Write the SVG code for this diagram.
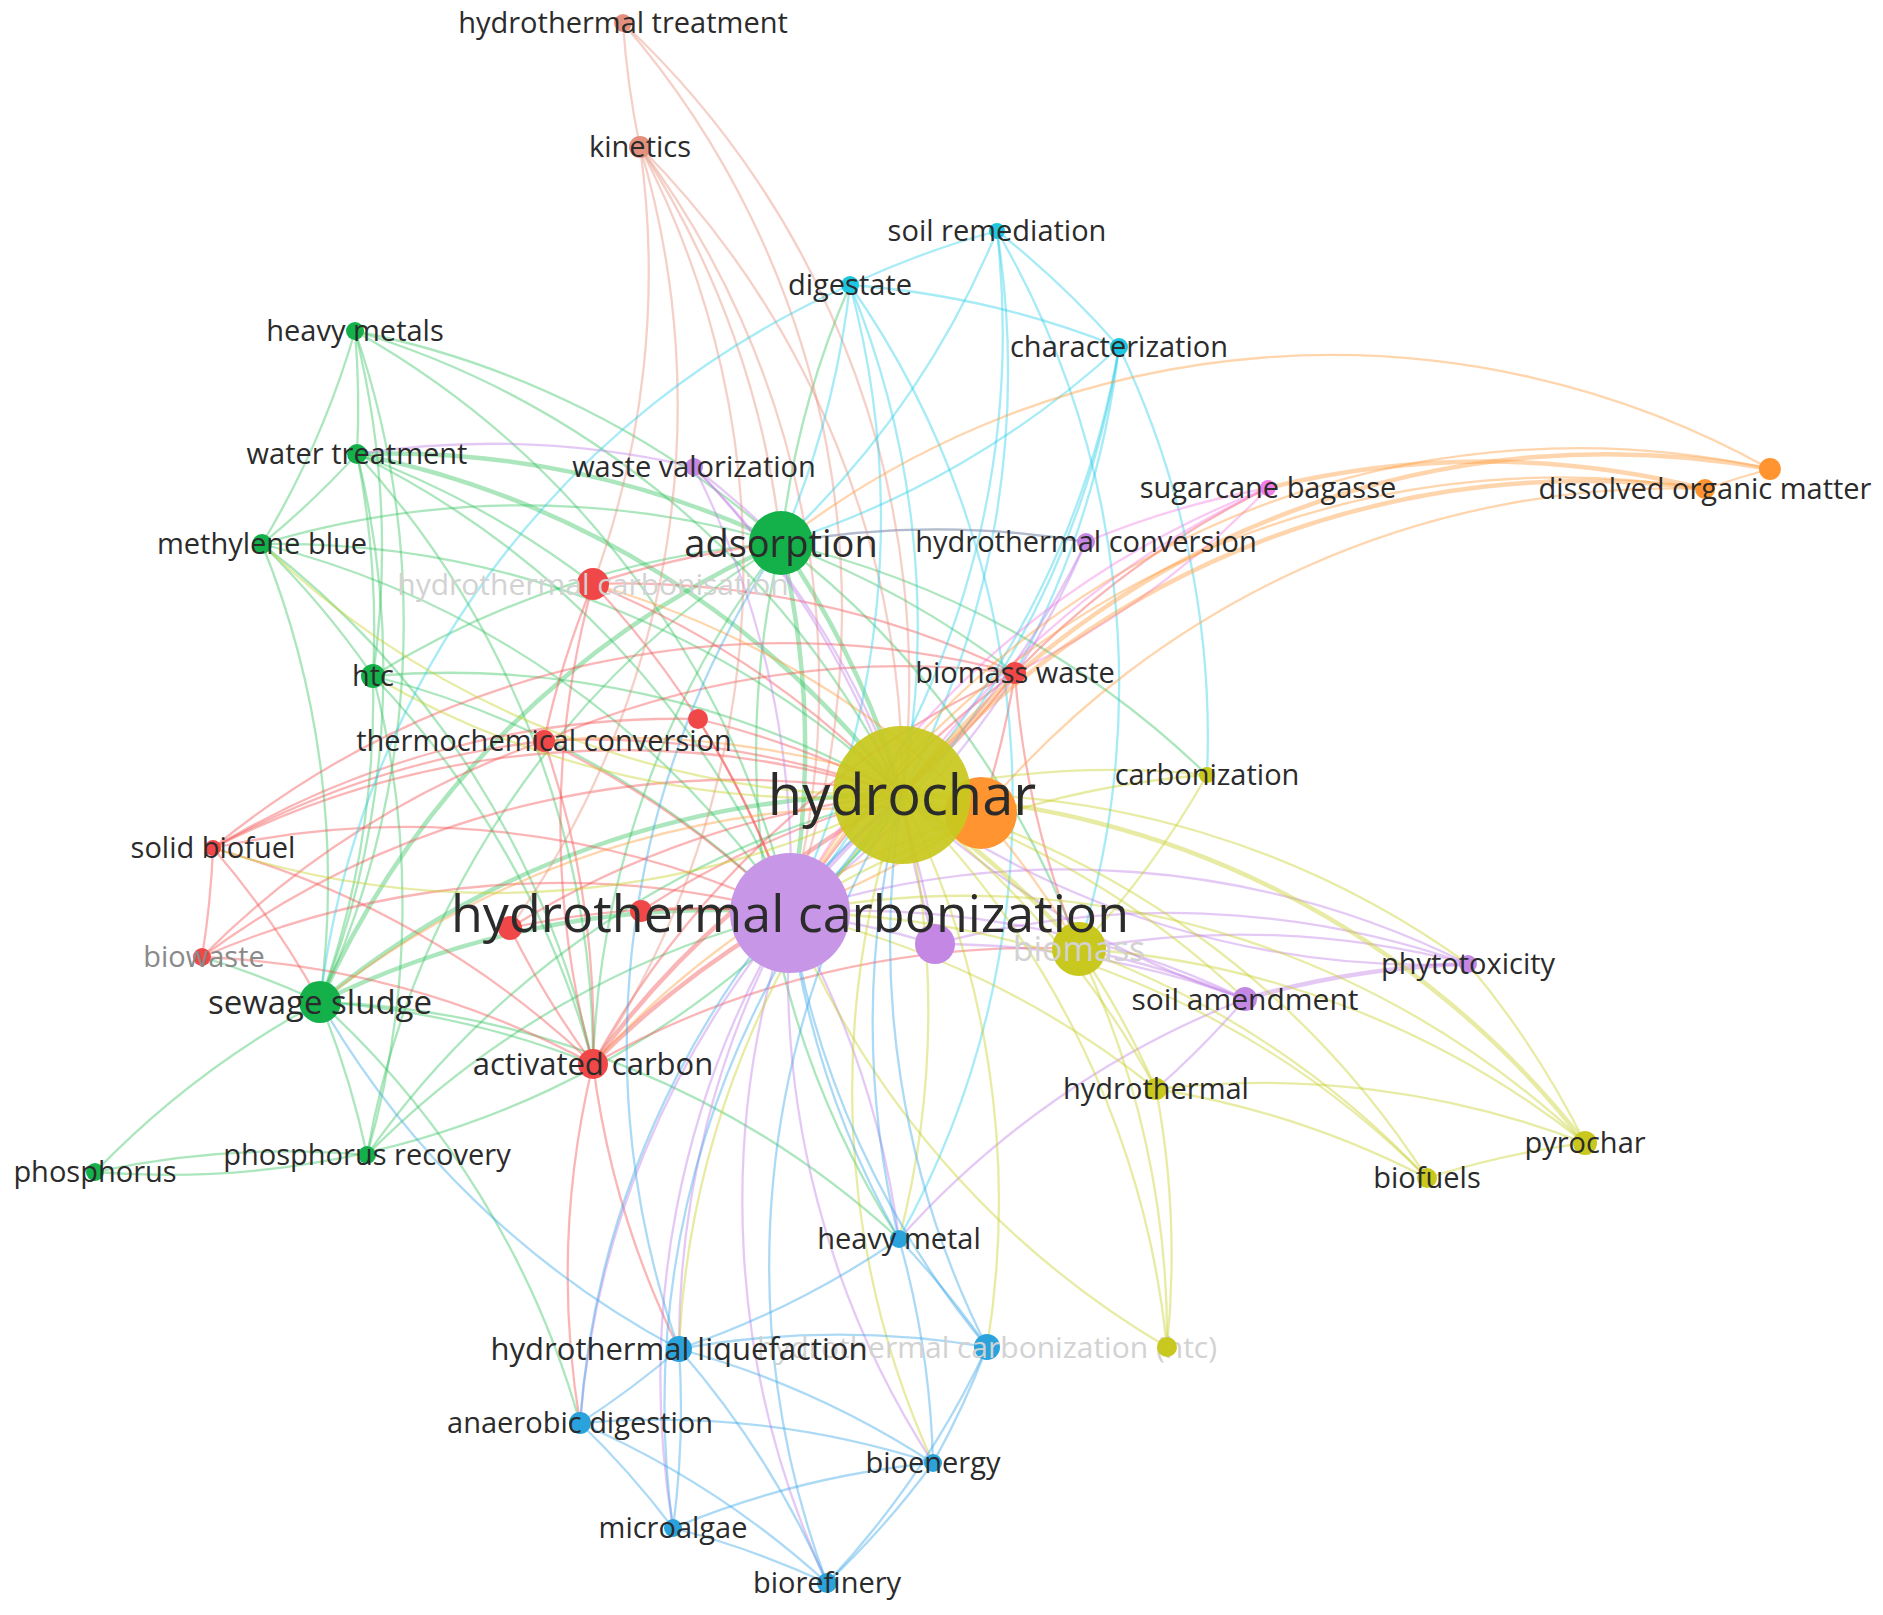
<svg xmlns="http://www.w3.org/2000/svg" width="1883" height="1615" viewBox="0 0 1883 1615">
<style>
text{font-family:"Open Sans","Liberation Sans",sans-serif;fill:#2b2b2b;text-anchor:middle}
.f{fill:#d2d2d2}
.gw{fill:#8a8a8a}
#edges path{fill:none;stroke-width:2.3;opacity:.42}
#edges path.t{stroke-width:4.5}
.g{stroke:#36c462}.r{stroke:#f25252}.s{stroke:#e8907c}.c{stroke:#2ad0e6}.p{stroke:#c07ee8}.k{stroke:#f27ee2}.o{stroke:#ff9a3c}.y{stroke:#c6d024}.b{stroke:#3aa6e8}
.G{fill:#14b04a}.R{fill:#f04848}.S{fill:#e4907e}.C{fill:#1ec6e0}.P{fill:#c488e4}.K{fill:#f07ee6}.O{fill:#ff9430}.Y{fill:#c8c81e}.B{fill:#2aa2dc}
</style>
<rect width="1883" height="1615" fill="#fff"/>
<g id="edges">
<path class="g" d="M355 331A900 900 0 0 1 357 454"/>
<path class="g" d="M355 331A900 900 0 0 1 262 544"/>
<path class="g" d="M355 331A900 900 0 0 1 781 543"/>
<path class="g" d="M355 331A900 900 0 0 1 373 676"/>
<path class="g" d="M355 331A900 900 0 0 1 320 1002"/>
<path class="g" d="M355 331A900 900 0 0 1 902 795"/>
<path class="g" d="M355 331A900 900 0 0 1 790 913"/>
<path class="g" d="M357 454A900 900 0 0 1 262 544"/>
<path class="g t" d="M357 454A900 900 0 0 1 781 543"/>
<path class="g" d="M357 454A900 900 0 0 1 373 676"/>
<path class="g" d="M357 454A900 900 0 0 1 320 1002"/>
<path class="g t" d="M357 454A900 900 0 0 1 902 795"/>
<path class="g" d="M357 454A900 900 0 0 1 790 913"/>
<path class="g" d="M357 454A900 900 0 0 1 593 1064"/>
<path class="g" d="M357 454A900 900 0 0 1 593 584"/>
<path class="g" d="M262 544A900 900 0 0 1 373 676"/>
<path class="g" d="M262 544A900 900 0 0 1 320 1002"/>
<path class="g" d="M262 544A900 900 0 0 1 781 543"/>
<path class="g" d="M262 544A900 900 0 0 1 902 795"/>
<path class="g" d="M262 544A900 900 0 0 1 593 1064"/>
<path class="g" d="M262 544A900 900 0 0 1 790 913"/>
<path class="g t" d="M781 543A900 900 0 0 1 902 795"/>
<path class="g t" d="M781 543A900 900 0 0 1 790 913"/>
<path class="g t" d="M320 1002A900 900 0 0 1 781 543"/>
<path class="g" d="M373 676A900 900 0 0 1 781 543"/>
<path class="g" d="M593 1064A900 900 0 0 1 781 543"/>
<path class="g" d="M781 543A900 900 0 0 1 850 285"/>
<path class="g" d="M367 1155A900 900 0 0 1 781 543"/>
<path class="g" d="M781 543A900 900 0 0 1 1079 949"/>
<path class="g" d="M781 543A900 900 0 0 1 1086 542"/>
<path class="g" d="M781 543A900 900 0 0 1 1207 775"/>
<path class="g" d="M899 1239A900 900 0 0 1 781 543"/>
<path class="g" d="M781 543A900 900 0 0 1 1015 673"/>
<path class="g" d="M373 676A900 900 0 0 1 320 1002"/>
<path class="g" d="M373 676A900 900 0 0 1 902 795"/>
<path class="g" d="M373 676A900 900 0 0 1 790 913"/>
<path class="g" d="M373 676A900 900 0 0 1 367 1155"/>
<path class="g" d="M373 676A900 900 0 0 1 593 1064"/>
<path class="g t" d="M320 1002A900 900 0 0 1 902 795"/>
<path class="g t" d="M320 1002A900 900 0 0 1 790 913"/>
<path class="g" d="M320 1002A900 900 0 0 1 367 1155"/>
<path class="g" d="M95 1172A900 900 0 0 1 320 1002"/>
<path class="g" d="M320 1002A900 900 0 0 1 580 1423"/>
<path class="g" d="M320 1002A900 900 0 0 1 593 1064"/>
<path class="g" d="M202 957A900 900 0 0 1 320 1002"/>
<path class="g" d="M320 1002A900 900 0 0 1 899 1239"/>
<path class="g" d="M902 795A900 900 0 0 1 95 1172"/>
<path class="g" d="M95 1172A900 900 0 0 1 367 1155"/>
<path class="g" d="M367 1155A900 900 0 0 1 902 795"/>
<path class="g" d="M367 1155A900 900 0 0 1 790 913"/>
<path class="r" d="M593 584A900 900 0 0 1 902 795"/>
<path class="r" d="M593 584A900 900 0 0 1 790 913"/>
<path class="r" d="M593 584A900 900 0 0 1 781 543"/>
<path class="r" d="M593 584A900 900 0 0 1 1015 673"/>
<path class="r" d="M593 1064A900 900 0 0 1 593 584"/>
<path class="r" d="M544 741A900 900 0 0 1 593 584"/>
<path class="r" d="M1015 673A900 900 0 0 1 902 795"/>
<path class="r" d="M790 913A900 900 0 0 1 1015 673"/>
<path class="r" d="M593 1064A900 900 0 0 1 1015 673"/>
<path class="r" d="M544 741A900 900 0 0 1 1015 673"/>
<path class="r" d="M1015 673A900 900 0 0 1 1268 488"/>
<path class="r" d="M1015 673A900 900 0 0 1 981 813"/>
<path class="r" d="M1079 949A900 900 0 0 1 1015 673"/>
<path class="r" d="M213 848A900 900 0 0 1 1015 673"/>
<path class="r" d="M544 741A900 900 0 0 1 902 795"/>
<path class="r" d="M544 741A900 900 0 0 1 790 913"/>
<path class="r" d="M213 848A900 900 0 0 1 544 741"/>
<path class="r" d="M202 957A900 900 0 0 1 544 741"/>
<path class="r" d="M544 741A900 900 0 0 1 593 1064"/>
<path class="r" d="M698 719A900 900 0 0 1 902 795"/>
<path class="r" d="M698 719A900 900 0 0 1 790 913"/>
<path class="r" d="M213 848A900 900 0 0 1 698 719"/>
<path class="r" d="M213 848A900 900 0 0 1 902 795"/>
<path class="r" d="M213 848A900 900 0 0 1 790 913"/>
<path class="r" d="M213 848A900 900 0 0 1 202 957"/>
<path class="r" d="M213 848A900 900 0 0 1 593 1064"/>
<path class="r" d="M213 848A900 900 0 0 1 320 1002"/>
<path class="r" d="M202 957A900 900 0 0 1 902 795"/>
<path class="r" d="M202 957A900 900 0 0 1 790 913"/>
<path class="r" d="M202 957A900 900 0 0 1 593 1064"/>
<path class="r t" d="M593 1064A900 900 0 0 1 902 795"/>
<path class="r t" d="M593 1064A900 900 0 0 1 790 913"/>
<path class="r" d="M593 1064A900 900 0 0 1 510 928"/>
<path class="r" d="M593 1064A900 900 0 0 1 1079 949"/>
<path class="r" d="M679 1349A900 900 0 0 1 593 1064"/>
<path class="r" d="M580 1423A900 900 0 0 1 593 1064"/>
<path class="r" d="M510 928A900 900 0 0 1 902 795"/>
<path class="r" d="M510 928A900 900 0 0 1 790 913"/>
<path class="r" d="M641 911A900 900 0 0 1 902 795"/>
<path class="r" d="M641 911A900 900 0 0 1 790 913"/>
<path class="s" d="M640 147A900 900 0 0 1 623 23"/>
<path class="s" d="M623 23A900 900 0 0 1 902 795"/>
<path class="s" d="M623 23A900 900 0 0 1 790 913"/>
<path class="s" d="M640 147A900 900 0 0 1 902 795"/>
<path class="s" d="M640 147A900 900 0 0 1 790 913"/>
<path class="s" d="M640 147A900 900 0 0 1 781 543"/>
<path class="s" d="M640 147A900 900 0 0 1 593 584"/>
<path class="s" d="M640 147A900 900 0 0 1 510 928"/>
<path class="s" d="M640 147A900 900 0 0 1 593 1064"/>
<path class="c" d="M850 285A900 900 0 0 1 997 231"/>
<path class="c" d="M997 231A900 900 0 0 1 1119 347"/>
<path class="c" d="M997 231A900 900 0 0 1 902 795"/>
<path class="c" d="M997 231A900 900 0 0 1 790 913"/>
<path class="c" d="M997 231A900 900 0 0 1 781 543"/>
<path class="c" d="M997 231A900 900 0 0 1 1079 949"/>
<path class="c" d="M850 285A900 900 0 0 1 1119 347"/>
<path class="c" d="M850 285A900 900 0 0 1 781 543"/>
<path class="c" d="M850 285A900 900 0 0 1 902 795"/>
<path class="c" d="M850 285A900 900 0 0 1 790 913"/>
<path class="c" d="M320 1002A900 900 0 0 1 850 285"/>
<path class="c" d="M850 285A900 900 0 0 1 899 1239"/>
<path class="c" d="M1119 347A900 900 0 0 1 902 795"/>
<path class="c" d="M1119 347A900 900 0 0 1 790 913"/>
<path class="c" d="M1119 347A900 900 0 0 1 781 543"/>
<path class="c" d="M1119 347A900 900 0 0 1 1015 673"/>
<path class="c" d="M1119 347A900 900 0 0 1 1207 775"/>
<path class="p" d="M694 467A900 900 0 0 1 902 795"/>
<path class="p" d="M694 467A900 900 0 0 1 790 913"/>
<path class="p" d="M694 467A900 900 0 0 1 781 543"/>
<path class="p" d="M357 454A900 900 0 0 1 694 467"/>
<path class="p" d="M694 467A900 900 0 0 1 935 944"/>
<path class="p" d="M1086 542A900 900 0 0 1 902 795"/>
<path class="p" d="M1086 542A900 900 0 0 1 790 913"/>
<path class="p" d="M781 543A900 900 0 0 1 1086 542"/>
<path class="p t" d="M790 913A900 900 0 0 1 902 795"/>
<path class="p" d="M790 913A900 900 0 0 1 1245 999"/>
<path class="p" d="M790 913A900 900 0 0 1 1468 964"/>
<path class="p" d="M790 913A900 900 0 0 1 935 944"/>
<path class="p" d="M790 913A900 900 0 0 1 899 1239"/>
<path class="p" d="M679 1349A900 900 0 0 1 790 913"/>
<path class="p" d="M580 1423A900 900 0 0 1 790 913"/>
<path class="p" d="M933 1463A900 900 0 0 1 790 913"/>
<path class="p" d="M673 1528A900 900 0 0 1 790 913"/>
<path class="p" d="M827 1583A900 900 0 0 1 790 913"/>
<path class="p" d="M935 944A900 900 0 0 1 902 795"/>
<path class="p" d="M935 944A900 900 0 0 1 1245 999"/>
<path class="p" d="M935 944A900 900 0 0 1 1468 964"/>
<path class="p" d="M1245 999A900 900 0 0 1 902 795"/>
<path class="p t" d="M1245 999A900 900 0 0 1 1468 964"/>
<path class="p" d="M1079 949A900 900 0 0 1 1245 999"/>
<path class="p" d="M1245 999A900 900 0 0 1 1156 1089"/>
<path class="p" d="M899 1239A900 900 0 0 1 1245 999"/>
<path class="p" d="M1468 964A900 900 0 0 1 902 795"/>
<path class="p" d="M1079 949A900 900 0 0 1 1468 964"/>
<path class="k" d="M902 795A900 900 0 0 1 1268 488"/>
<path class="k" d="M790 913A900 900 0 0 1 1268 488"/>
<path class="k" d="M1268 488A900 900 0 0 1 1015 673"/>
<path class="k" d="M1086 542A900 900 0 0 1 1268 488"/>
<path class="o" d="M981 813A900 900 0 0 1 1705 489"/>
<path class="o t" d="M902 795A900 900 0 0 1 1705 489"/>
<path class="o" d="M790 913A900 900 0 0 1 1705 489"/>
<path class="o t" d="M1268 488A900 900 0 0 1 1705 489"/>
<path class="o" d="M1705 489A900 900 0 0 1 1770 469"/>
<path class="o t" d="M902 795A900 900 0 0 1 1770 469"/>
<path class="o" d="M790 913A900 900 0 0 1 1770 469"/>
<path class="o" d="M781 543A900 900 0 0 1 1770 469"/>
<path class="o" d="M593 1064A900 900 0 0 1 981 813"/>
<path class="o" d="M593 584A900 900 0 0 1 981 813"/>
<path class="o" d="M320 1002A900 900 0 0 1 981 813"/>
<path class="o" d="M544 741A900 900 0 0 1 981 813"/>
<path class="o" d="M981 813A900 900 0 0 1 1079 949"/>
<path class="o" d="M981 813A900 900 0 0 1 790 913"/>
<path class="y" d="M902 795A900 900 0 0 1 1207 775"/>
<path class="y t" d="M902 795A900 900 0 0 1 1079 949"/>
<path class="y" d="M902 795A900 900 0 0 1 1156 1089"/>
<path class="y t" d="M902 795A900 900 0 0 1 1585 1143"/>
<path class="y" d="M902 795A900 900 0 0 1 1427 1178"/>
<path class="y" d="M902 795A900 900 0 0 1 1245 999"/>
<path class="y" d="M902 795A900 900 0 0 1 1167 1347"/>
<path class="y" d="M902 795A900 900 0 0 1 899 1239"/>
<path class="y" d="M679 1349A900 900 0 0 1 902 795"/>
<path class="y" d="M902 795A900 900 0 0 1 987 1347"/>
<path class="y" d="M902 795A900 900 0 0 1 1468 964"/>
<path class="y" d="M933 1463A900 900 0 0 1 902 795"/>
<path class="y" d="M1207 775A900 900 0 0 1 1079 949"/>
<path class="y" d="M790 913A900 900 0 0 1 1207 775"/>
<path class="y" d="M1079 949A900 900 0 0 1 1156 1089"/>
<path class="y" d="M1079 949A900 900 0 0 1 1585 1143"/>
<path class="y" d="M1079 949A900 900 0 0 1 1427 1178"/>
<path class="y" d="M1079 949A900 900 0 0 1 1167 1347"/>
<path class="y" d="M1156 1089A900 900 0 0 1 1427 1178"/>
<path class="y" d="M1156 1089A900 900 0 0 1 1585 1143"/>
<path class="y" d="M790 913A900 900 0 0 1 1156 1089"/>
<path class="y" d="M1427 1178A900 900 0 0 1 1585 1143"/>
<path class="y" d="M790 913A900 900 0 0 1 1585 1143"/>
<path class="y" d="M1468 964A900 900 0 0 1 1585 1143"/>
<path class="y" d="M790 913A900 900 0 0 1 1427 1178"/>
<path class="y" d="M1167 1347A900 900 0 0 1 790 913"/>
<path class="y" d="M1156 1089A900 900 0 0 1 1167 1347"/>
<path class="y" d="M902 795A900 900 0 0 1 213 848"/>
<path class="y" d="M902 795A900 900 0 0 1 373 676"/>
<path class="y" d="M902 795A900 900 0 0 1 262 544"/>
<path class="b" d="M899 1239A900 900 0 0 1 902 795"/>
<path class="b" d="M899 1239A900 900 0 0 1 790 913"/>
<path class="b" d="M899 1239A900 900 0 0 1 987 1347"/>
<path class="b" d="M899 1239A900 900 0 0 1 679 1349"/>
<path class="b" d="M899 1239A900 900 0 0 1 933 1463"/>
<path class="b" d="M679 1349A900 900 0 0 1 580 1423"/>
<path class="b" d="M679 1349A900 900 0 0 1 673 1528"/>
<path class="b" d="M679 1349A900 900 0 0 1 827 1583"/>
<path class="b" d="M679 1349A900 900 0 0 1 933 1463"/>
<path class="b" d="M679 1349A900 900 0 0 1 781 543"/>
<path class="b" d="M679 1349A900 900 0 0 1 320 1002"/>
<path class="b" d="M987 1347A900 900 0 0 1 902 795"/>
<path class="b" d="M987 1347A900 900 0 0 1 790 913"/>
<path class="b" d="M987 1347A900 900 0 0 1 933 1463"/>
<path class="b" d="M987 1347A900 900 0 0 1 827 1583"/>
<path class="b" d="M679 1349A900 900 0 0 1 987 1347"/>
<path class="b" d="M580 1423A900 900 0 0 1 902 795"/>
<path class="b" d="M580 1423A900 900 0 0 1 673 1528"/>
<path class="b" d="M580 1423A900 900 0 0 1 827 1583"/>
<path class="b" d="M580 1423A900 900 0 0 1 933 1463"/>
<path class="b" d="M933 1463A900 900 0 0 1 827 1583"/>
<path class="b" d="M673 1528A900 900 0 0 1 933 1463"/>
<path class="b" d="M673 1528A900 900 0 0 1 902 795"/>
<path class="b" d="M673 1528A900 900 0 0 1 827 1583"/>
<path class="b" d="M827 1583A900 900 0 0 1 902 795"/>
</g>
<g id="n-hydrothermal-carbonisation"><circle class="R" cx="593" cy="584" r="16"/><text class="f" x="593" y="595" font-size="30">hydrothermal carbonisation</text></g>
<g id="n-htc-blue"><circle class="B" cx="987" cy="1347" r="13"/><text class="f" x="987" y="1358" font-size="30">hydrothermal carbonization (htc)</text></g>
<g id="n-yellow-2"><circle class="Y" cx="1167" cy="1347" r="10"/></g>
<g id="n-biomass"><circle class="Y" cx="1079" cy="949" r="27"/><text class="f" x="1079" y="961" font-size="34">biomass</text></g>
<g id="n-biowaste"><circle class="R" cx="202" cy="957" r="9"/><text class="gw" x="204" y="967" font-size="29">biowaste</text></g>
<g id="n-hydrothermal-treatment"><circle class="S" cx="623" cy="23" r="9"/><text x="623" y="33" font-size="29">hydrothermal treatment</text></g>
<g id="n-kinetics"><circle class="S" cx="640" cy="147" r="11"/><text x="640" y="157" font-size="29">kinetics</text></g>
<g id="n-soil-remediation"><circle class="C" cx="997" cy="231" r="8"/><text x="997" y="241" font-size="29">soil remediation</text></g>
<g id="n-digestate"><circle class="C" cx="850" cy="285" r="9"/><text x="850" y="295" font-size="29">digestate</text></g>
<g id="n-characterization"><circle class="C" cx="1119" cy="347" r="9"/><text x="1119" y="357" font-size="29">characterization</text></g>
<g id="n-heavy-metals"><circle class="G" cx="355" cy="331" r="9"/><text x="355" y="341" font-size="29">heavy metals</text></g>
<g id="n-water-treatment"><circle class="G" cx="357" cy="454" r="10"/><text x="357" y="464" font-size="29">water treatment</text></g>
<g id="n-waste-valorization"><circle class="P" cx="694" cy="467" r="9"/><text x="694" y="477" font-size="29">waste valorization</text></g>
<g id="n-methylene-blue"><circle class="G" cx="262" cy="544" r="10"/><text x="262" y="554" font-size="29">methylene blue</text></g>
<g id="n-sugarcane-bagasse"><circle class="K" cx="1268" cy="488" r="8"/><text x="1268" y="498" font-size="29">sugarcane bagasse</text></g>
<g id="n-orange-2"><circle class="O" cx="1770" cy="469" r="11"/></g>
<g id="n-dissolved-organic-matter"><circle class="O" cx="1705" cy="489" r="10"/><text x="1705" y="499" font-size="29">dissolved organic matter</text></g>
<g id="n-hydrothermal-conversion"><circle class="P" cx="1086" cy="542" r="9"/><text x="1086" y="552" font-size="29">hydrothermal conversion</text></g>
<g id="n-htc"><circle class="G" cx="373" cy="676" r="12"/><text x="373" y="686" font-size="29">htc</text></g>
<g id="n-biomass-waste"><circle class="R" cx="1015" cy="673" r="11"/><text x="1015" y="683" font-size="29">biomass waste</text></g>
<g id="n-red-2"><circle class="R" cx="698" cy="719" r="10"/></g>
<g id="n-thermochemical-conversion"><circle class="R" cx="544" cy="741" r="11"/><text x="544" y="751" font-size="29">thermochemical conversion</text></g>
<g id="n-carbonization"><circle class="Y" cx="1207" cy="775" r="8"/><text x="1207" y="785" font-size="29">carbonization</text></g>
<g id="n-solid-biofuel"><circle class="R" cx="213" cy="848" r="8"/><text x="213" y="858" font-size="29">solid biofuel</text></g>
<g id="n-red-3"><circle class="R" cx="510" cy="928" r="12"/></g>
<g id="n-red-4"><circle class="R" cx="641" cy="911" r="11"/></g>
<g id="n-purple-2"><circle class="P" cx="935" cy="944" r="20"/></g>
<g id="n-phytotoxicity"><circle class="P" cx="1468" cy="964" r="9"/><text x="1468" y="974" font-size="29">phytotoxicity</text></g>
<g id="n-soil-amendment"><circle class="P" cx="1245" cy="999" r="12"/><text x="1245" y="1010" font-size="30">soil amendment</text></g>
<g id="n-sewage-sludge"><circle class="G" cx="320" cy="1002" r="21"/><text x="320" y="1014" font-size="33">sewage sludge</text></g>
<g id="n-activated-carbon"><circle class="R" cx="593" cy="1064" r="15"/><text x="593" y="1075" font-size="31">activated carbon</text></g>
<g id="n-hydrothermal"><circle class="Y" cx="1156" cy="1089" r="11"/><text x="1156" y="1099" font-size="29">hydrothermal</text></g>
<g id="n-phosphorus-recovery"><circle class="G" cx="367" cy="1155" r="9"/><text x="367" y="1165" font-size="29">phosphorus recovery</text></g>
<g id="n-phosphorus"><circle class="G" cx="95" cy="1172" r="9"/><text x="95" y="1182" font-size="29">phosphorus</text></g>
<g id="n-pyrochar"><circle class="Y" cx="1585" cy="1143" r="12"/><text x="1585" y="1153" font-size="29">pyrochar</text></g>
<g id="n-biofuels"><circle class="Y" cx="1427" cy="1178" r="10"/><text x="1427" y="1188" font-size="29">biofuels</text></g>
<g id="n-heavy-metal"><circle class="B" cx="899" cy="1239" r="9"/><text x="899" y="1249" font-size="29">heavy metal</text></g>
<g id="n-hydrothermal-liquefaction"><circle class="B" cx="679" cy="1349" r="13"/><text x="679" y="1360" font-size="31">hydrothermal liquefaction</text></g>
<g id="n-anaerobic-digestion"><circle class="B" cx="580" cy="1423" r="11"/><text x="580" y="1433" font-size="29">anaerobic digestion</text></g>
<g id="n-bioenergy"><circle class="B" cx="933" cy="1463" r="9"/><text x="933" y="1473" font-size="29">bioenergy</text></g>
<g id="n-microalgae"><circle class="B" cx="673" cy="1528" r="9"/><text x="673" y="1538" font-size="29">microalgae</text></g>
<g id="n-biorefinery"><circle class="B" cx="827" cy="1583" r="10"/><text x="827" y="1593" font-size="29">biorefinery</text></g>
<g id="n-adsorption"><circle class="G" cx="781" cy="543" r="32"/><text x="781" y="557" font-size="38">adsorption</text></g>
<g id="n-hydrothermal-carbonization"><circle fill="#c896e6" cx="790" cy="913" r="60"/><text x="790" y="932" font-size="52">hydrothermal carbonization</text></g>
<g id="n-orange-1"><circle class="O" cx="981" cy="813" r="36"/></g>
<g id="n-hydrochar"><circle fill="#c8c81e" fill-opacity=".93" cx="902" cy="795" r="69"/><text x="902" y="815" font-size="56">hydrochar</text></g>
</svg>
